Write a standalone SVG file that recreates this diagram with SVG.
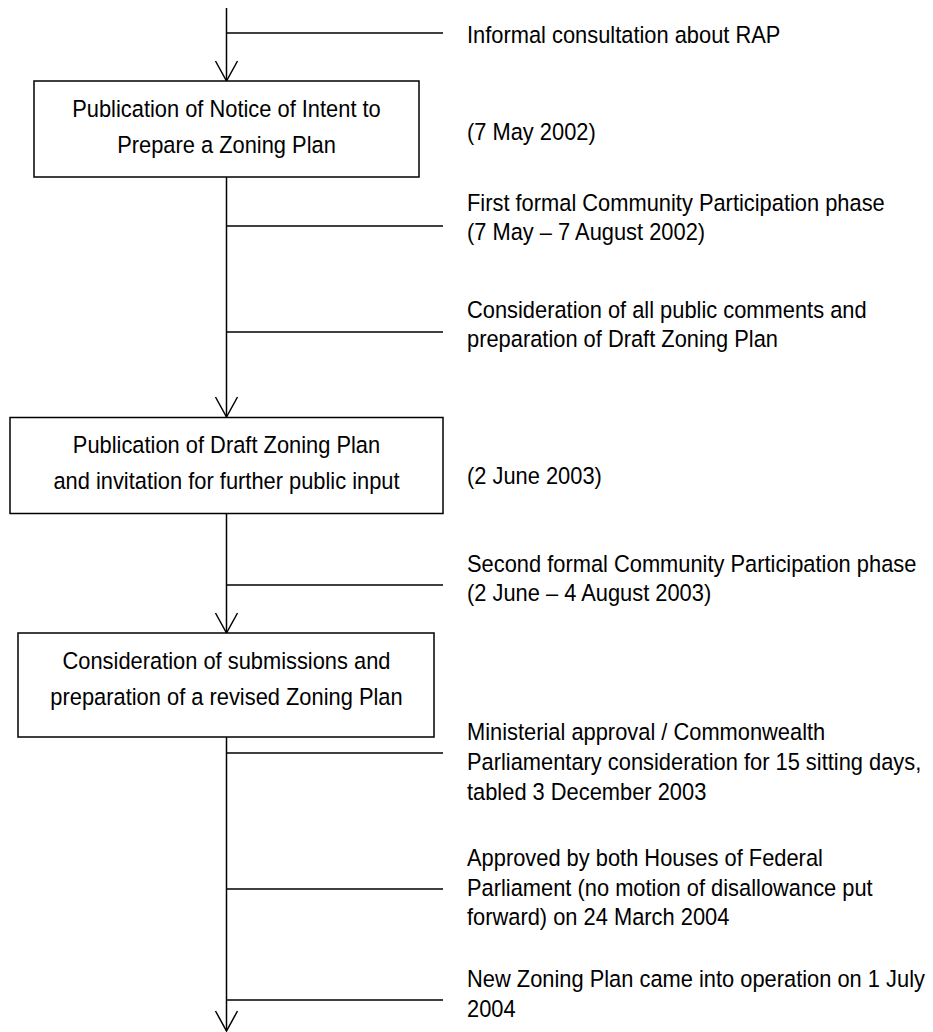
<svg xmlns="http://www.w3.org/2000/svg" width="933" height="1032" viewBox="0 0 933 1032">
<style>
.t{font-family:"Liberation Sans",Arial,sans-serif;font-size:23.5px;fill:#000}
.c{text-anchor:middle}
.box{fill:#fff;stroke:#000;stroke-width:1.5}
.ln{fill:none;stroke:#000;stroke-width:1.5}
</style>
<rect width="933" height="1032" fill="#fff"/>
<g id="connectors" class="ln">
<line x1="226.5" y1="8" x2="226.5" y2="81"/>
<path d="M215.5,61 L226.5,81 L237.5,61"/>
<line x1="226.5" y1="177" x2="226.5" y2="417"/>
<path d="M215.5,397 L226.5,417 L237.5,397"/>
<line x1="226.5" y1="513" x2="226.5" y2="633"/>
<path d="M215.5,613 L226.5,633 L237.5,613"/>
<line x1="226.5" y1="737" x2="226.5" y2="1031"/>
<path d="M215.5,1011 L226.5,1031 L237.5,1011"/>
<line x1="226.5" y1="33" x2="443" y2="33"/>
<line x1="226.5" y1="226" x2="443" y2="226"/>
<line x1="226.5" y1="332" x2="443" y2="332"/>
<line x1="226.5" y1="585" x2="443" y2="585"/>
<line x1="226.5" y1="753" x2="443" y2="753"/>
<line x1="226.5" y1="889" x2="443" y2="889"/>
<line x1="226.5" y1="1000" x2="443" y2="1000"/>
</g>
<g id="box1">
<rect class="box" x="34" y="81" width="385" height="96"/>
<text class="t c" transform="translate(226.5,0) scale(0.93,1)"><tspan x="0" y="117">Publication of Notice of Intent to</tspan><tspan x="0" y="153">Prepare a Zoning Plan</tspan></text>
</g>
<g id="box2">
<rect class="box" x="10" y="417.5" width="433" height="96"/>
<text class="t c" transform="translate(226.5,0) scale(0.93,1)"><tspan x="0" y="453">Publication of Draft Zoning Plan</tspan><tspan x="0" y="489">and invitation for further public input</tspan></text>
</g>
<g id="box3">
<rect class="box" x="18" y="633" width="416" height="104"/>
<text class="t c" transform="translate(226.5,0) scale(0.93,1)"><tspan x="0" y="669">Consideration of submissions and</tspan><tspan x="0" y="705">preparation of a revised Zoning Plan</tspan></text>
</g>
<g id="note1"><text class="t" transform="translate(467,0) scale(0.93,1)"><tspan x="0" y="43">Informal consultation about RAP</tspan></text></g>
<g id="note2"><text class="t" transform="translate(467,0) scale(0.93,1)"><tspan x="0" y="140">(7 May 2002)</tspan></text></g>
<g id="note3"><text class="t" transform="translate(467,0) scale(0.93,1)"><tspan x="0" y="211">First formal Community Participation phase</tspan><tspan x="0" y="240">(7 May – 7 August 2002)</tspan></text></g>
<g id="note4"><text class="t" transform="translate(467,0) scale(0.93,1)"><tspan x="0" y="318">Consideration of all public comments and</tspan><tspan x="0" y="347">preparation of Draft Zoning Plan</tspan></text></g>
<g id="note5"><text class="t" transform="translate(467,0) scale(0.93,1)"><tspan x="0" y="484">(2 June 2003)</tspan></text></g>
<g id="note6"><text class="t" transform="translate(467,0) scale(0.93,1)"><tspan x="0" y="572">Second formal Community Participation phase</tspan><tspan x="0" y="601">(2 June – 4 August 2003)</tspan></text></g>
<g id="note7"><text class="t" transform="translate(467,0) scale(0.93,1)"><tspan x="0" y="740">Ministerial approval / Commonwealth</tspan><tspan x="0" y="770">Parliamentary consideration for 15 sitting days,</tspan><tspan x="0" y="800">tabled 3 December 2003</tspan></text></g>
<g id="note8"><text class="t" transform="translate(467,0) scale(0.93,1)"><tspan x="0" y="866">Approved by both Houses of Federal</tspan><tspan x="0" y="896">Parliament (no motion of disallowance put</tspan><tspan x="0" y="925">forward) on 24 March 2004</tspan></text></g>
<g id="note9"><text class="t" transform="translate(467,0) scale(0.93,1)"><tspan x="0" y="987">New Zoning Plan came into operation on 1 July</tspan><tspan x="0" y="1017">2004</tspan></text></g>
</svg>
